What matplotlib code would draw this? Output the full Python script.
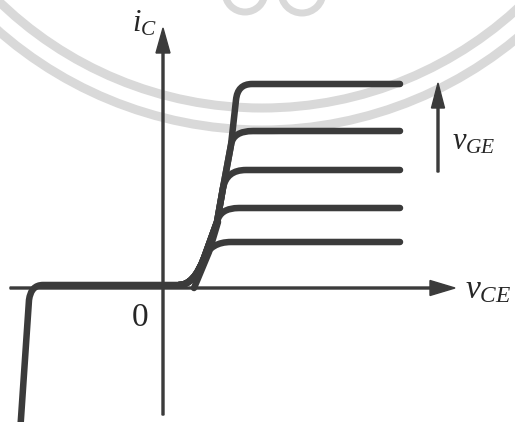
"""IGBT output characteristics: i_C versus v_CE for rising v_GE."""
import matplotlib.pyplot as plt
from matplotlib.patches import Circle, PathPatch
from matplotlib.path import Path

plt.rcParams["mathtext.fontset"] = "custom"
plt.rcParams["mathtext.rm"] = "Liberation Serif"
plt.rcParams["mathtext.it"] = "Liberation Serif:italic"

INK = "#3b3b3b"
TEXT = "#262626"
SEAL = "#d9d9d9"

# saturation current of each v_GE curve (arbitrary units)
levels = [4.6, 8.0, 11.8, 15.7, 20.4]
# shared rising section the curves leave one by one
trunk_x = [4.1, 5.4, 6.0, 6.8, 7.3]
trunk_y = [3.0, 6.6, 10.0, 14.3, 18.8]
# knee of each curve: control point and where it turns flat
knee_ctrl_x = [4.8, 5.7, 6.35, 7.0, 7.45]
knee_end_x = [6.8, 7.6, 8.3, 9.0, 8.9]
flat_end_x = 23.7

# reverse blocking branch
reverse_x = [-14.3, -13.4, -13.2, -12.0, 1.8]
reverse_y = [-14.5, -1.2, 0.3, 0.3, 0.3]
# forward start on the axis
base_x = [1.6, 3.1]
base_y = [0.3, 0.3]
stub_x = [3.1, 4.6, 5.5]
stub_y = [0.0, 3.6, 6.6]


def curve_path(i):
    """Build the path of the i-th forward curve."""
    verts = [(base_x[0], base_y[0]), (base_x[1], base_y[1]),
             (trunk_x[0], trunk_y[0])]
    codes = [Path.MOVETO, Path.CURVE3, Path.CURVE3]
    for k in range(1, i + 1):
        verts.append((trunk_x[k], trunk_y[k]))
        codes.append(Path.LINETO)
    verts += [(knee_ctrl_x[i], levels[i]), (knee_end_x[i], levels[i]),
              (flat_end_x, levels[i])]
    codes += [Path.CURVE3, Path.CURVE3, Path.LINETO]
    return Path(verts, codes)


fig = plt.figure(figsize=(5.15, 4.22), dpi=100)
ax = fig.add_axes([0, 0, 1, 1])
ax.set_xlim(-16.3, 35.2)
ax.set_ylim(-13.4, 28.8)
ax.axis("off")

# faint seal in the background
for r in (40.0, 37.8):
    ax.add_patch(Circle((9.9, 55.8), r, fill=False, lw=6.5, ec=SEAL, zorder=0))
for cx, r in ((8.2, 2.0), (13.9, 2.1)):
    ax.add_patch(Circle((cx, 29.6), r, fill=False, lw=5, ec=SEAL, zorder=0))

# axes with arrow heads
arrow = dict(width=0.2, head_length=2.5, length_includes_head=True,
             color=INK, zorder=2)
ax.arrow(0, -12.7, 0, 38.7, head_width=1.4, **arrow)
ax.arrow(-15.3, 0, 44.5, 0, head_width=1.5, **arrow)
ax.arrow(27.5, 11.6, 0, 8.9, head_width=1.3, **arrow)

line = dict(fill=False, lw=4.7, ec=INK, capstyle="round",
            joinstyle="round", zorder=3)
rev = Path(list(zip(reverse_x, reverse_y)),
           [Path.MOVETO, Path.LINETO, Path.CURVE3, Path.CURVE3, Path.LINETO])
ax.add_patch(PathPatch(rev, **line))
ax.add_patch(PathPatch(Path(list(zip(stub_x, stub_y))), **line))
for i in range(len(levels)):
    ax.add_patch(PathPatch(curve_path(i), **line))

ax.text(-2.3, -3.0, "0", fontsize=24, family="Liberation Serif",
        color=TEXT, ha="center", va="center")
ax.text(30.2, -1.0, r"$v_{CE}$", fontsize=24, color=TEXT,
        ha="left", va="baseline")
ax.text(28.9, 13.8, r"$v_{GE}$", fontsize=22, color=TEXT,
        ha="left", va="baseline")
ax.text(-3.1, 25.6, r"$i_{C}$", fontsize=22, color=TEXT,
        ha="left", va="baseline")

fig.savefig("out.png", dpi=100, facecolor="white")
